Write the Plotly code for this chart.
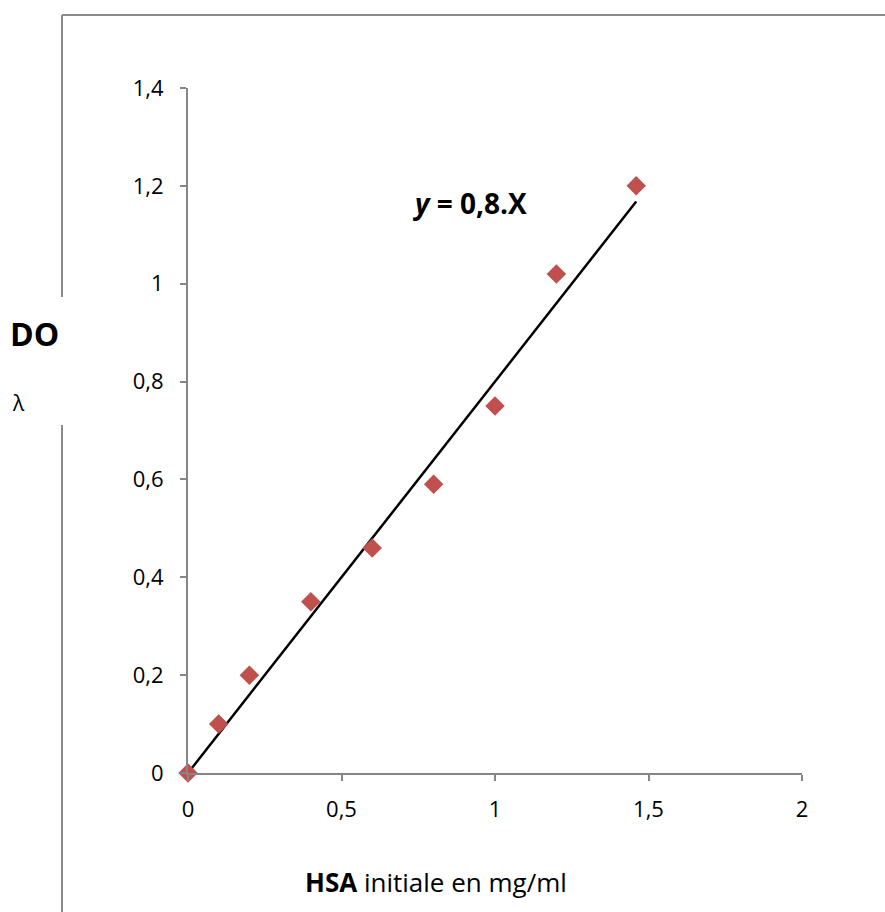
import plotly.graph_objects as go

# HSA initial concentration (mg/ml) and measured optical density
hsa = [0, 0.1, 0.2, 0.4, 0.6, 0.8, 1.0, 1.2, 1.46]
do_values = [0, 0.1, 0.2, 0.35, 0.46, 0.59, 0.75, 1.02, 1.2]

# Linear fit through the origin: y = 0.8 x
slope = 0.8
fit_x = [0, 1.46]
fit_y = [slope * v for v in fit_x]

x_ticks = [0, 0.5, 1, 1.5, 2]
x_ticktext = ["0", "0,5", "1", "1,5", "2"]
y_ticks = [0, 0.2, 0.4, 0.6, 0.8, 1.0, 1.2, 1.4]
y_ticktext = ["0", "0,2", "0,4", "0,6", "0,8", "1", "1,2", "1,4"]

W, H = 885, 912
L, R, T, B = 188, 83, 88, 139
pw, ph = W - L - R, H - T - B


def px(xp):
    return (xp - L) / pw


def py(yp):
    return (H - B - yp) / ph


font = "Open Sans, Liberation Sans, sans-serif"
axis_col = "#868686"

fig = go.Figure()
fig.add_trace(go.Scatter(
    x=fit_x, y=fit_y, mode="lines",
    line=dict(color="black", width=2.5), showlegend=False, hoverinfo="skip",
))
fig.add_trace(go.Scatter(
    x=hsa, y=do_values, mode="markers",
    marker=dict(symbol="diamond", size=15, color="#C0504D"),
    showlegend=False, cliponaxis=False,
))

# Outer frame: top edge and left edge with a gap for the y label
frame = dict(color="#8c8c8c", width=2)
fig.add_shape(type="line", xref="paper", yref="paper",
              x0=px(62), x1=px(W + 10), y0=py(15), y1=py(15), line=frame)
fig.add_shape(type="line", xref="paper", yref="paper",
              x0=px(62), x1=px(62), y0=py(15), y1=py(297), line=frame)
fig.add_shape(type="line", xref="paper", yref="paper",
              x0=px(62), x1=px(62), y0=py(425), y1=py(H + 10), line=frame)


def label(x, y, text, size):
    fig.add_annotation(x=px(x), y=py(y), xref="paper", yref="paper",
                       xanchor="center", yanchor="middle",
                       text=text, showarrow=False,
                       font=dict(size=size, color="black", family=font))


label(34, 333, "<b>DO</b>", 32)
label(18, 403, "λ", 21)
label(470, 203, "<b><i>y</i> = 0,8.X</b>", 28)
label(436, 882, "<b>HSA</b> initiale en mg/ml", 26)

fig.update_layout(
    width=W, height=H,
    margin=dict(l=L, r=R, t=T, b=B),
    paper_bgcolor="white", plot_bgcolor="white",
    font=dict(family=font, size=22, color="black"),
    xaxis=dict(range=[0, 2], tickvals=x_ticks, ticktext=x_ticktext,
               showgrid=False, zeroline=False, showline=True,
               linecolor=axis_col, linewidth=2, ticks="outside",
               ticklen=6, tickcolor=axis_col, tickwidth=2,
               ticklabelstandoff=10, fixedrange=True),
    yaxis=dict(range=[0, 1.4], tickvals=y_ticks, ticktext=y_ticktext,
               showgrid=False, zeroline=False, showline=True,
               linecolor=axis_col, linewidth=2, ticks="outside",
               ticklen=6, tickcolor=axis_col, tickwidth=2,
               ticklabelstandoff=12, fixedrange=True),
)

fig.write_html("out.html")
